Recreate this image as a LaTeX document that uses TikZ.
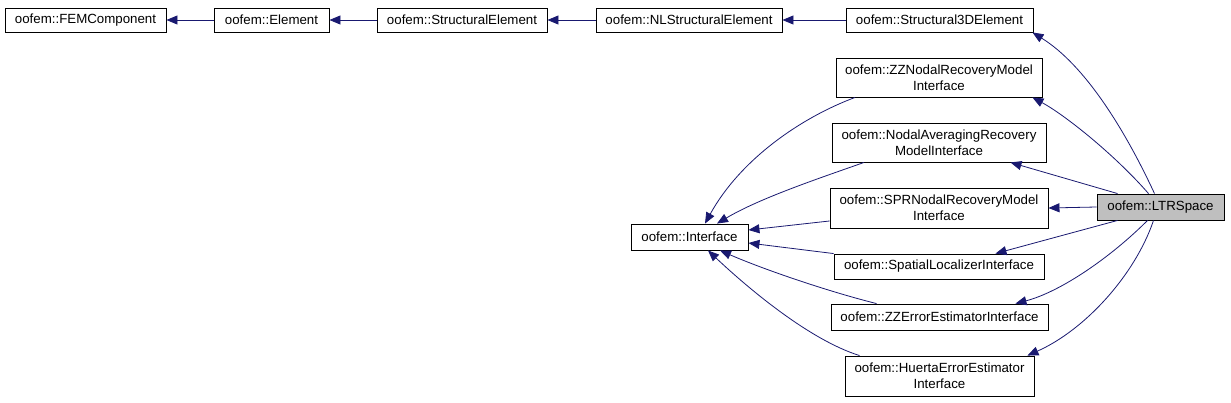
\documentclass[tikz,border=0pt]{standalone}
\usepackage{fontspec}
\setmainfont{Liberation Sans}
\usetikzlibrary{arrows.meta}
\definecolor{edgeblue}{HTML}{191970}
\definecolor{leafgray}{HTML}{BFBFBF}
\tikzset{
  cls/.style={draw=black, line width=0.9pt, fill=white, inner sep=0pt, align=center,
    font=\fontsize{13.3}{16}\selectfont},
  leaf/.style={cls, fill=leafgray},
  inh/.style={draw=edgeblue, line width=0.8pt, -{Triangle[length=11pt,width=9pt]}},
}
\begin{document}
\begin{tikzpicture}[x=1pt,y=-1pt]
\useasboundingbox (0,0) rectangle (1231,402);
% top row
\node[cls, minimum width=161pt, minimum height=24pt] (fem) at (85.5,20) {oofem::FEMComponent};
\node[cls, minimum width=115pt, minimum height=24pt] (elem) at (271.5,20) {oofem::Element};
\node[cls, minimum width=170pt, minimum height=24pt] (struct) at (462,20) {oofem::StructuralElement};
\node[cls, minimum width=186pt, minimum height=24pt] (nlstruct) at (689,20) {oofem::NLStructuralElement};
\node[cls, minimum width=187pt, minimum height=24pt] (s3d) at (939.5,20) {oofem::Structural3DElement};
% interfaces column
\node[cls, minimum width=206pt, minimum height=39pt] (zzn) at (939,77.5) {oofem::ZZNodalRecoveryModel\\Interface};
\node[cls, minimum width=214pt, minimum height=39pt] (nar) at (939,142.5) {oofem::NodalAveragingRecovery\\ModelInterface};
\node[cls, minimum width=218pt, minimum height=40pt] (spr) at (939,208) {oofem::SPRNodalRecoveryModel\\Interface};
\node[cls, minimum width=210pt, minimum height=25pt] (spat) at (939,266.5) {oofem::SpatialLocalizerInterface};
\node[cls, minimum width=217pt, minimum height=26pt] (zze) at (939.5,317) {oofem::ZZErrorEstimatorInterface};
\node[cls, minimum width=189pt, minimum height=40pt] (huer) at (939.5,376) {oofem::HuertaErrorEstimator\\Interface};
% others
\node[leaf, minimum width=127pt, minimum height=26pt] (ltr) at (1160.5,207) {oofem::LTRSpace};
\node[cls, minimum width=117pt, minimum height=26pt] (iface) at (689.5,237) {oofem::Interface};
% top chain
\draw[inh] (elem.west) -- (fem.east);
\draw[inh] (struct.west) -- (elem.east);
\draw[inh] (nlstruct.west) -- (struct.east);
\draw[inh] (s3d.west) -- (nlstruct.east);
% LTRSpace parents
\draw[inh] ([xshift=-6pt]ltr.north) .. controls (1125,130) and (1085,65) .. ([xshift=-1pt]s3d.south east);
\draw[inh] ([xshift=-12pt]ltr.north) .. controls (1115,155) and (1065,115) .. ([xshift=-10pt]zzn.south east);
\draw[inh] ([xshift=-43pt]ltr.north) -- ([xshift=-36pt]nar.south east);
\draw[inh] (ltr.west) -- (spr.east);
\draw[inh] ([xshift=-43pt]ltr.south) -- ([xshift=-49pt]spat.north east);
\draw[inh] ([xshift=-13pt]ltr.south) .. controls (1110,258) and (1060,292) .. ([xshift=-33pt]zze.north east);
\draw[inh] ([xshift=-7pt]ltr.south) .. controls (1135,275) and (1085,330) .. ([xshift=-7pt]huer.north east);
% Interface children
\draw[inh] ([xshift=-84pt]zzn.south) .. controls (800,118) and (740,160) .. ([xshift=15.5pt]iface.north);
\draw[inh] ([xshift=-75pt]nar.south) .. controls (820,178) and (760,198) .. ([xshift=27.5pt]iface.north);
\draw[inh] ([yshift=-13pt]spr.west) -- ([yshift=7pt]iface.east);
\draw[inh] (spat.north west) -- ([yshift=-6pt]iface.east);
\draw[inh] ([xshift=-63pt]zze.north) .. controls (830,292) and (765,270) .. ([xshift=30.5pt]iface.south);
\draw[inh] ([xshift=-80pt]huer.north) .. controls (810,340) and (750,290) .. ([xshift=18.5pt]iface.south);
\end{tikzpicture}
\end{document}
